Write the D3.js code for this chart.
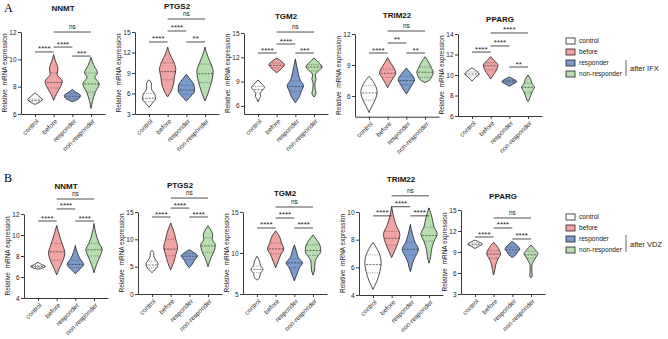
<!DOCTYPE html>
<html><head><meta charset="utf-8">
<script src="https://cdn.jsdelivr.net/npm/d3@7"></script>
<style>body{margin:0;background:#fff}svg{display:block}text{font-family:"Liberation Sans",Arial,sans-serif}</style>
</head><body><svg id="c" width="668" height="339"></svg>
<script>
// ---------------- DATA ----------------
const genes = ["NNMT", "PTGS2", "TGM2", "TRIM22", "PPARG"];
const groups = ["control", "before", "responder", "non-responder"];
const treatments = ["after IFX", "after VDZ"];
const colors = ["#ffffff", "#f2a3a3", "#7b9bcc", "#b6deae"];

const yDomainsA = [[6, 12], [3, 15], [5, 15], [4, 12], [6, 14]];
const yDomainsB = [[4, 12], [0, 15], [5, 15], [4, 10], [3, 15]];
const yTicksA = [[6, 8, 10, 12], [3, 6, 9, 12, 15], [6, 9, 12, 15], [6, 9, 12], [6, 8, 10, 12, 14]];
const yTicksB = [[4, 6, 8, 10, 12], [0, 5, 10, 15], [5, 10, 15], [4, 6, 8, 10], [3, 6, 9, 12, 15]];

// violin profiles: [value, relative half-width] per group (control, before, responder, non-responder)
const violinA_NNMT = [
  [[7.55,0],[7.3,0.45],[7.05,0.85],[6.9,0.6],[6.7,0]],
  [[10.35,0],[9.9,0.2],[9.3,0.5],[8.9,0.4],[8.4,1.0],[8.0,0.8],[7.5,0.35],[7.0,0]],
  [[7.8,0],[7.6,0.4],[7.35,0.95],[7.1,0.7],[6.9,0]],
  [[10.15,0],[9.6,0.3],[9.0,0.75],[8.7,0.45],[8.2,0.95],[7.6,0.5],[7.0,0.2],[6.4,0]]];
const violinA_PTGS2 = [
  [[8.0,0],[7.6,0.25],[7.2,0.3],[6.8,0.25],[5.8,0.7],[5.2,0.75],[4.6,0.4],[4.0,0]],
  [[12.8,0],[11.8,0.25],[10.5,0.75],[9.5,0.95],[8.5,0.8],[7.5,0.7],[6.5,0.45],[5.5,0]],
  [[8.8,0],[8.0,0.5],[7.2,0.9],[6.4,0.95],[5.7,0.6],[4.9,0]],
  [[12.8,0],[11.5,0.3],[10.3,0.7],[9.2,0.95],[8.2,0.85],[7.0,0.6],[6.0,0.35],[4.9,0]]];
const violinA_TGM2 = [
  [[9.2,0],[8.7,0.45],[8.3,0.75],[7.9,0.5],[7.5,0.25],[7.2,0.3],[6.9,0.15],[6.5,0]],
  [[11.9,0],[11.5,0.55],[11.1,0.9],[10.7,0.65],[10.1,0]],
  [[11.8,0],[11.0,0.15],[10.0,0.35],[9.2,0.55],[8.5,0.95],[7.8,0.7],[7.0,0.4],[6.4,0]],
  [[11.9,0],[11.3,0.6],[10.8,0.95],[10.3,0.5],[9.8,0.15],[9.3,0.25],[8.8,0.1],[8.0,0.15],[7.6,0.25],[7.1,0]]];
const violinA_TRIM22 = [
  [[7.9,0],[7.5,0.4],[7.0,0.75],[6.4,0.95],[5.8,0.8],[5.2,0.45],[4.7,0.15],[4.4,0]],
  [[9.7,0],[9.2,0.35],[8.6,0.8],[8.2,0.95],[7.7,0.6],[7.2,0.25],[6.8,0]],
  [[8.7,0],[8.2,0.5],[7.6,0.95],[7.0,0.6],[6.5,0.25],[6.2,0]],
  [[9.8,0],[9.3,0.4],[8.8,0.7],[8.3,0.95],[7.9,0.8],[7.5,0.45],[7.3,0]]];
const violinA_PPARG = [
  [[10.7,0],[10.4,0.5],[10.1,0.85],[9.8,0.45],[9.4,0]],
  [[11.8,0],[11.4,0.4],[11.0,0.85],[10.5,0.7],[10.0,0.3],[9.6,0]],
  [[9.8,0],[9.55,0.6],[9.35,0.85],[9.1,0.4],[8.9,0]],
  [[10.0,0],[9.6,0.3],[9.2,0.45],[8.8,0.75],[8.4,0.5],[8.0,0.3],[7.7,0.2],[7.4,0]]];
const violinB_NNMT = [
  [[7.4,0],[7.2,0.4],[7.0,0.85],[6.85,0.5],[6.75,0]],
  [[10.9,0],[10.3,0.2],[9.5,0.5],[8.8,0.8],[8.3,0.95],[7.5,0.7],[6.8,0.3],[6.2,0]],
  [[9.0,0],[8.4,0.2],[7.8,0.5],[7.2,0.95],[6.8,0.6],[6.5,0.2],[6.3,0]],
  [[11.1,0],[10.2,0.2],[9.2,0.6],[8.6,0.95],[8.0,0.7],[7.2,0.3],[6.4,0]]];
const violinB_PTGS2 = [
  [[8.0,0],[7.4,0.2],[7.0,0.2],[6.4,0.35],[5.5,0.7],[4.8,0.55],[4.2,0.2],[3.9,0]],
  [[13.0,0],[11.5,0.35],[10.0,0.6],[8.5,0.8],[7.2,0.6],[5.8,0.35],[4.4,0]],
  [[8.1,0],[7.6,0.5],[7.0,0.95],[6.2,0.6],[5.5,0.35],[4.8,0]],
  [[12.5,0],[11.5,0.4],[10.8,0.55],[10.0,0.5],[9.0,0.85],[8.0,0.75],[6.8,0.4],[5.0,0]]];
const violinB_TGM2 = [
  [[9.6,0],[9.0,0.3],[8.5,0.4],[8.0,0.7],[7.5,0.4],[7.0,0.3],[6.7,0]],
  [[12.7,0],[12.0,0.45],[11.2,0.7],[10.5,0.95],[9.8,0.6],[9.0,0.3],[8.2,0]],
  [[11.0,0],[10.2,0.25],[9.4,0.5],[8.8,0.95],[8.2,0.6],[7.4,0.3],[6.6,0]],
  [[12.2,0],[11.5,0.5],[10.8,0.85],[10.2,0.9],[9.5,0.5],[9.0,0.25],[8.3,0.2],[7.8,0.15],[7.3,0]]];
const violinB_TRIM22 = [
  [[7.8,0],[7.3,0.5],[6.8,0.85],[6.3,0.95],[5.7,0.8],[5.0,0.45],[4.6,0.15],[4.4,0]],
  [[10.4,0],[9.6,0.25],[9.0,0.55],[8.4,0.95],[7.8,0.75],[7.2,0.35],[6.7,0]],
  [[9.1,0],[8.4,0.25],[7.8,0.55],[7.3,0.95],[6.8,0.6],[6.3,0.25],[6.0,0.15],[5.7,0]],
  [[10.3,0],[9.6,0.35],[8.9,0.6],[8.4,0.95],[7.9,0.6],[7.3,0.3],[6.8,0.2],[6.3,0]]];
const violinB_PPARG = [
  [[10.7,0],[10.4,0.5],[10.1,0.85],[9.8,0.4],[9.5,0]],
  [[10.4,0],[9.8,0.4],[9.2,0.7],[8.7,0.8],[8.0,0.5],[7.2,0.25],[6.5,0.15],[5.7,0]],
  [[10.5,0],[10.0,0.5],[9.4,0.85],[9.0,0.6],[8.6,0.4],[8.2,0]],
  [[10.0,0],[9.3,0.5],[8.8,0.8],[8.3,0.6],[7.7,0.3],[7.0,0.1],[6.3,0.1],[5.6,0.15],[5.3,0]]];

// [median, upper quartile, lower quartile] per group
const statsA_NNMT   = [[7.0,7.1,6.9],[8.3,9.0,7.9],[7.3,7.5,7.15],[8.2,9.0,7.6]];
const statsA_PTGS2  = [[5.3,6.0,4.8],[9.2,10.5,8.0],[6.5,7.2,5.9],[8.9,10.3,7.6]];
const statsA_TGM2   = [[8.0,8.4,7.6],[11.0,11.3,10.7],[8.4,9.1,7.8],[10.8,11.1,10.3]];
const statsA_TRIM22 = [[6.3,7.0,5.6],[8.2,8.6,7.8],[7.5,7.9,7.1],[8.3,8.8,7.8]];
const statsA_PPARG  = [[10.1,10.3,9.9],[10.9,11.2,10.5],[9.4,9.5,9.25],[8.8,9.2,8.3]];
const statsB_NNMT   = [[7.0,7.1,6.9],[8.4,9.2,7.6],[7.2,7.6,6.9],[8.6,9.2,8.0]];
const statsB_PTGS2  = [[5.3,6.0,4.8],[8.2,10.0,7.0],[6.9,7.4,6.3],[8.8,10.3,7.6]];
const statsB_TGM2   = [[8.0,8.4,7.6],[10.5,11.2,9.9],[8.8,9.3,8.2],[10.3,11.0,9.7]];
const statsB_TRIM22 = [[6.2,6.9,5.6],[8.1,8.6,7.6],[7.3,7.8,6.9],[8.3,8.9,7.9]];
const statsB_PPARG  = [[10.1,10.3,9.9],[8.7,9.2,8.1],[9.3,9.7,8.9],[8.6,9.1,8.1]];

// significance brackets: [from group, to group, label, level (in y units)]
const sigA_NNMT   = [[0,1,"****",10.54],[1,2,"****",10.9],[1,3,"ns",12.0],[2,3,"***",10.24]];
const sigA_PTGS2  = [[0,1,"****",13.54],[1,2,"****",15.15],[1,3,"ns",16.9],[2,3,"**",13.54]];
const sigA_TGM2   = [[0,1,"****",12.53],[1,2,"****",13.64],[1,3,"ns",15.12],[2,3,"***",12.53]];
const sigA_TRIM22 = [[0,1,"****",10.16],[1,2,"**",11.13],[1,3,"ns",12.29],[2,3,"**",10.16]];
const sigA_PPARG  = [[0,1,"****",12.24],[1,2,"****",12.83],[1,3,"****",14.1],[2,3,"**",10.78]];
const sigB_NNMT   = [[0,1,"****",11.33],[1,2,"****",12.48],[1,3,"ns",13.43],[2,3,"****",11.33]];
const sigB_PTGS2  = [[0,1,"****",14.08],[1,2,"****",15.72],[1,3,"ns",17.55],[2,3,"****",14.08]];
const sigB_TGM2   = [[0,1,"****",13.05],[1,2,"****",14.27],[1,3,"ns",15.61],[2,3,"****",13.05]];
const sigB_TRIM22 = [[0,1,"****",9.72],[1,2,"****",10.38],[1,3,"ns",11.17],[2,3,"****",9.72]];
const sigB_PPARG  = [[0,1,"****",11.14],[1,2,"****",12.43],[1,3,"ns",13.86],[2,3,"****",10.86]];

// ---------------- LAYOUT ----------------
const rows = [
  {letter: "A", treat: treatments[0], domains: yDomainsA, ticks: yTicksA,
   violins: [violinA_NNMT, violinA_PTGS2, violinA_TGM2, violinA_TRIM22, violinA_PPARG],
   stats: [statsA_NNMT, statsA_PTGS2, statsA_TGM2, statsA_TRIM22, statsA_PPARG],
   sigs: [sigA_NNMT, sigA_PTGS2, sigA_TGM2, sigA_TRIM22, sigA_PPARG],
   axisX: [21, 135, 244, 355, 458], yTop: [32, 32, 33, 34, 34], yBot: [114, 114, 114, 116.7, 116],
   titleY: [11, 9, 19, 18, 22], letterY: 12, legendY: 41, barY: [60, 76]},
  {letter: "B", treat: treatments[1], domains: yDomainsB, ticks: yTicksB,
   violins: [violinB_NNMT, violinB_PTGS2, violinB_TGM2, violinB_TRIM22, violinB_PPARG],
   stats: [statsB_NNMT, statsB_PTGS2, statsB_TGM2, statsB_TRIM22, statsB_PPARG],
   sigs: [sigB_NNMT, sigB_PTGS2, sigB_TGM2, sigB_TRIM22, sigB_PPARG],
   axisX: [24, 138, 243, 359, 461], yTop: [214, 212, 212, 212, 210], yBot: [298, 294, 294, 295, 294],
   titleY: [189, 188, 196, 182, 199], letterY: 182, legendY: 217, barY: [235, 252]}
];

const svg = d3.select("#c");
const wScale = d3.scaleLinear().domain([0, 1]).range([0, 8.6]);
let clipId = 0;

rows.forEach((row, ri) => {
  svg.append("text").attr("x", 4).attr("y", row.letterY)
    .style("font-family", "'Liberation Serif','Times New Roman',serif").style("font-size", "12px")
    .text(row.letter);

  genes.forEach((gene, gi) => {
    const x0 = row.axisX[gi];
    const y = d3.scaleLinear().domain(row.domains[gi]).range([row.yBot[gi], row.yTop[gi]]);
    const x = d3.scalePoint().domain(groups).range([x0, x0 + 84]).padding(0.75);
    const g = svg.append("g");

    // violins
    row.violins[gi].forEach((prof, k) => {
      const cx = x(groups[k]);
      const area = d3.area()
        .y(d => y(d[0]))
        .x0(d => cx - wScale(d[1]))
        .x1(d => cx + wScale(d[1]))
        .curve(d3.curveMonotoneY);
      const dPath = area(prof);
      const id = "clip" + (clipId++);
      svg.append("clipPath").attr("id", id).append("path").attr("d", dPath);
      g.append("path").attr("d", dPath).attr("fill", colors[k])
        .attr("stroke", "#222").attr("stroke-width", 0.8);
      const [med, q3, q1] = row.stats[gi][k];
      const lines = g.append("g").attr("clip-path", `url(#${id})`);
      lines.append("line").attr("x1", cx - 10).attr("x2", cx + 10)
        .attr("y1", y(med)).attr("y2", y(med))
        .attr("stroke", "#333").attr("stroke-width", 0.7).attr("stroke-dasharray", "2,1.2");
      [q3, q1].forEach(q => lines.append("line").attr("x1", cx - 10).attr("x2", cx + 10)
        .attr("y1", y(q)).attr("y2", y(q))
        .attr("stroke", "#444").attr("stroke-width", 0.6).attr("stroke-dasharray", "0.8,1"));
    });

    // y axis
    const ya = g.append("g").attr("transform", `translate(${x0},0)`)
      .call(d3.axisLeft(y).tickValues(row.ticks[gi]).tickFormat(d3.format("d"))
        .tickSize(3).tickSizeOuter(0).tickPadding(1.5));
    ya.select(".domain").attr("stroke", "#222").attr("stroke-width", 0.9);
    ya.selectAll(".tick line").attr("stroke", "#222").attr("stroke-width", 0.9);
    ya.selectAll(".tick text").style("font-size", "6.5px").attr("fill", "#222");

    // x axis
    const xa = g.append("g").attr("transform", `translate(0,${row.yBot[gi]})`)
      .call(d3.axisBottom(x).tickSize(3).tickSizeOuter(0));
    xa.select(".domain").attr("stroke", "#222").attr("stroke-width", 0.9);
    xa.selectAll(".tick line").attr("stroke", "#222").attr("stroke-width", 0.9);
    xa.selectAll(".tick text").style("font-size", "6.5px").attr("fill", "#222")
      .attr("text-anchor", "end").attr("x", 0).attr("y", 0).attr("dy", "0.35em")
      .attr("transform", "translate(2,6) rotate(-45)");

    // y label
    g.append("text").attr("transform", `translate(${x0 - 14},${(row.yTop[gi] + row.yBot[gi]) / 2}) rotate(-90)`)
      .attr("text-anchor", "middle").style("font-size", "6.5px").attr("fill", "#222")
      .attr("xml:space", "preserve").text("Relative  mRNA expression");

    // title
    const cMid = (x(groups[0]) + x(groups[3])) / 2;
    g.append("text").attr("x", cMid).attr("y", row.titleY[gi]).attr("text-anchor", "middle")
      .style("font-size", "8px").style("font-weight", "bold").attr("fill", "#111").text(gene);

    // significance
    row.sigs[gi].forEach(([a, b, lab, lev]) => {
      const yy = y(lev);
      g.append("line").attr("x1", x(groups[a])).attr("x2", x(groups[b]))
        .attr("y1", yy).attr("y2", yy).attr("stroke", "#222").attr("stroke-width", 0.8);
      g.append("text").attr("x", (x(groups[a]) + x(groups[b])) / 2)
        .attr("y", lab === "ns" ? yy - 3 : yy - 0.5)
        .attr("text-anchor", "middle").style("font-size", lab === "ns" ? "6.5px" : "8px")
        .attr("fill", "#222").text(lab);
    });
  });

  // legend
  const lg = svg.append("g");
  groups.forEach((grp, k) => {
    const yy = row.legendY + k * 11;
    lg.append("rect").attr("x", 566).attr("y", yy - 3).attr("width", 9).attr("height", 6)
      .attr("fill", colors[k]).attr("stroke", "#222").attr("stroke-width", 0.8);
    lg.append("text").attr("x", 579).attr("y", yy + 2.3).style("font-size", "6.6px")
      .attr("fill", "#222").text(grp);
  });
  lg.append("line").attr("x1", 626).attr("x2", 626).attr("y1", row.barY[0]).attr("y2", row.barY[1])
    .attr("stroke", "#444").attr("stroke-width", 0.8);
  lg.append("text").attr("x", 630).attr("y", (row.barY[0] + row.barY[1]) / 2 + 3)
    .style("font-size", "7.5px").attr("fill", "#222").text(row.treat);
});
</script>
</body></html>
